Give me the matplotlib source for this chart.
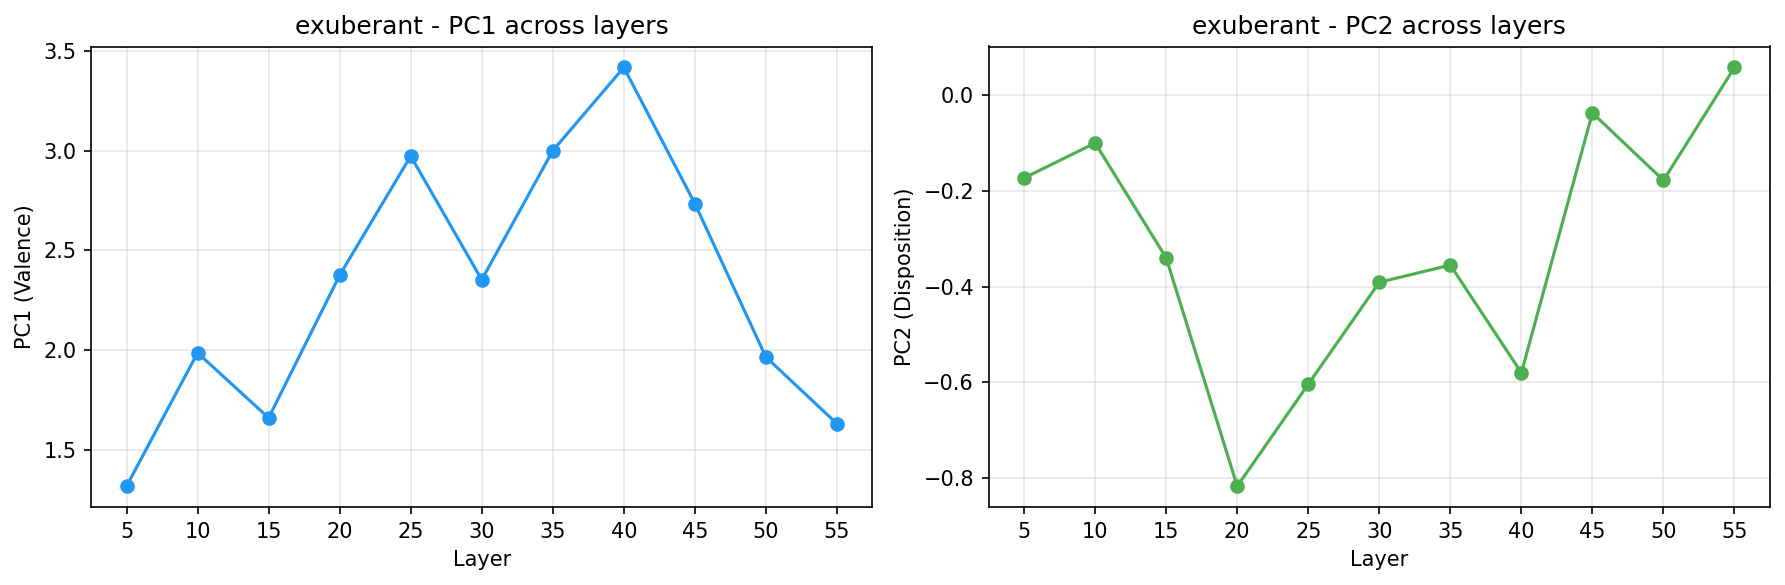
import matplotlib
matplotlib.use('Agg')
import matplotlib.pyplot as plt

layers = [5, 10, 15, 20, 25, 30, 35, 40, 45, 50, 55]
pc1_values = [1.319, 1.987, 1.661, 2.376, 2.973, 2.353, 3.000, 3.417, 2.735, 1.966, 1.632]
pc2_values = [-0.173, -0.100, -0.340, -0.817, -0.604, -0.391, -0.355, -0.580, -0.037, -0.178, 0.058]
word = 'exuberant'

fig, axes = plt.subplots(1, 2, figsize=(12, 4), dpi=150)

# PC1
ax = axes[0]
ax.plot(layers, pc1_values, marker='o', color='#2196F3', linewidth=1.5, markersize=6)
ax.set_title(f'{word} - PC1 across layers')
ax.set_xlabel('Layer')
ax.set_ylabel('PC1 (Valence)')
ax.set_xticks(layers)
ax.grid(True, alpha=0.3)

# PC2
ax = axes[1]
ax.plot(layers, pc2_values, marker='o', color='#4CAF50', linewidth=1.5, markersize=6)
ax.set_title(f'{word} - PC2 across layers')
ax.set_xlabel('Layer')
ax.set_ylabel('PC2 (Disposition)')
ax.set_xticks(layers)
ax.grid(True, alpha=0.3)

plt.tight_layout()
plt.savefig('out.png', dpi=150, bbox_inches='tight')
